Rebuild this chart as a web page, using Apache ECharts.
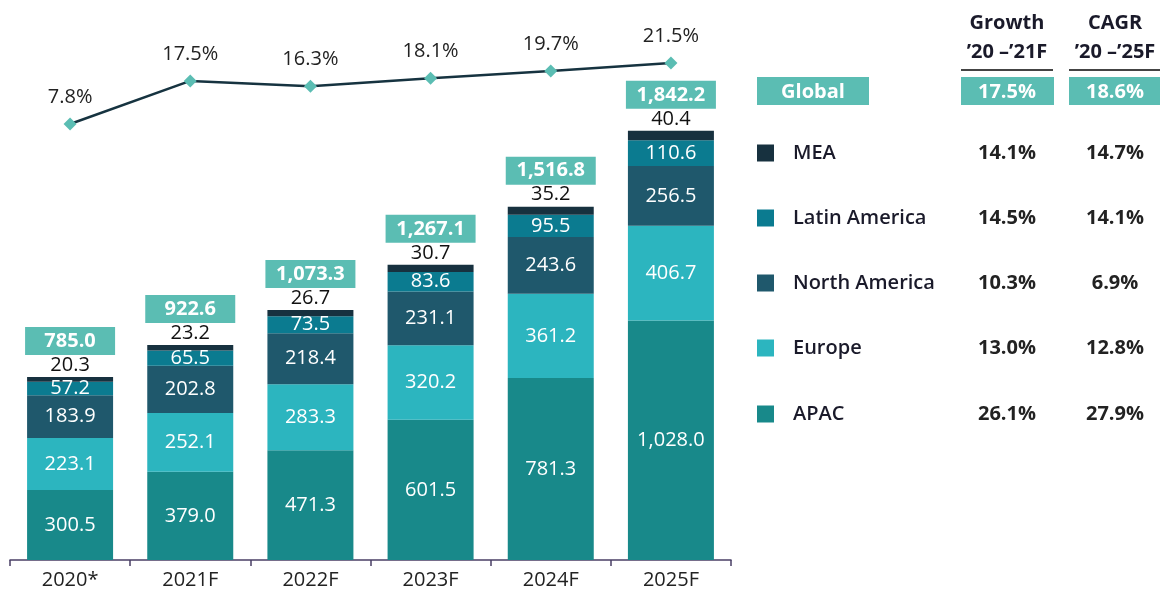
<!DOCTYPE html>
<html>
<head>
<meta charset="utf-8">
<script src="https://cdn.jsdelivr.net/npm/echarts@6/dist/echarts.min.js"></script>
<style>
  html, body { margin: 0; padding: 0; background: #fff; }
  #main { width: 1160px; height: 594px; }
</style>
</head>
<body>
<div id="main"></div>
<script>
var years = ['2020*', '2021F', '2022F', '2023F', '2024F', '2025F'];
var apac = [300.5, 379.0, 471.3, 601.5, 781.3, 1028.0];
var europe = [223.1, 252.1, 283.3, 320.2, 361.2, 406.7];
var northAmerica = [183.9, 202.8, 218.4, 231.1, 243.6, 256.5];
var latinAmerica = [57.2, 65.5, 73.5, 83.6, 95.5, 110.6];
var mea = [20.3, 23.2, 26.7, 30.7, 35.2, 40.4];
var totals = [785.0, 922.6, 1073.3, 1267.1, 1516.8, 1842.2];
var growth = [7.8, 17.5, 16.3, 18.1, 19.7, 21.5];

// right-hand table
var regionNames = ['MEA', 'Latin America', 'North America', 'Europe', 'APAC'];
var regionGrowth = ['14.1%', '14.5%', '10.3%', '13.0%', '26.1%'];
var regionCagr = ['14.7%', '14.1%', '6.9%', '12.8%', '27.9%'];
var globalGrowth = '17.5%';
var globalCagr = '18.6%';

var colors = {
  APAC: '#18898a',
  Europe: '#2cb5bf',
  'North America': '#1f586c',
  'Latin America': '#0b7b90',
  MEA: '#17313f'
};
var boxColor = '#5bbdb3';
var FONT = '"Open Sans", "Noto Sans", sans-serif';

function fmt(v) {
  return v.toLocaleString('en-US', { minimumFractionDigits: 1, maximumFractionDigits: 1 });
}

function barSeries(name, data, labelInside) {
  return {
    name: name,
    type: 'bar',
    stack: 'total',
    xAxisIndex: 0,
    yAxisIndex: 0,
    barWidth: 86,
    data: data,
    itemStyle: { color: colors[name] },
    label: labelInside ? {
      show: true,
      position: 'inside',
      color: '#fff',
      fontSize: 20,
      fontFamily: FONT,
      formatter: function (p) { return fmt(p.value); }
    } : {
      show: true,
      position: 'top',
      distance: 2,
      color: '#111',
      fontSize: 20,
      fontFamily: FONT,
      formatter: function (p) { return fmt(p.value); }
    },
    emphasis: { disabled: true }
  };
}

// table graphics
var graphics = [];
var col1 = 1007, col2 = 1115;
graphics.push({ type: 'text', style: { text: 'Growth', x: col1, y: 23, font: 'bold 20px ' + FONT, fill: '#1a1a2a', textAlign: 'center', textVerticalAlign: 'middle' } });
graphics.push({ type: 'text', style: { text: '\u201920 \u2013\u201921F', x: col1, y: 52, font: 'bold 20px ' + FONT, fill: '#1a1a2a', textAlign: 'center', textVerticalAlign: 'middle' } });
graphics.push({ type: 'text', style: { text: 'CAGR', x: col2, y: 23, font: 'bold 20px ' + FONT, fill: '#1a1a2a', textAlign: 'center', textVerticalAlign: 'middle' } });
graphics.push({ type: 'text', style: { text: '\u201920 \u2013\u201925F', x: col2, y: 52, font: 'bold 20px ' + FONT, fill: '#1a1a2a', textAlign: 'center', textVerticalAlign: 'middle' } });
graphics.push({ type: 'line', shape: { x1: 961, y1: 70, x2: 1053, y2: 70 }, style: { stroke: '#444', lineWidth: 2 } });
graphics.push({ type: 'line', shape: { x1: 1069, y1: 70, x2: 1160, y2: 70 }, style: { stroke: '#444', lineWidth: 2 } });
// global row
graphics.push({ type: 'rect', shape: { x: 757, y: 77, width: 112, height: 28 }, style: { fill: boxColor } });
graphics.push({ type: 'rect', shape: { x: 961, y: 77, width: 93, height: 28 }, style: { fill: boxColor } });
graphics.push({ type: 'rect', shape: { x: 1069, y: 77, width: 91, height: 28 }, style: { fill: boxColor } });
graphics.push({ type: 'text', style: { text: 'Global', x: 813, y: 92, font: 'bold 20px ' + FONT, fill: '#fff', textAlign: 'center', textVerticalAlign: 'middle' } });
graphics.push({ type: 'text', style: { text: globalGrowth, x: col1, y: 92, font: 'bold 20px ' + FONT, fill: '#fff', textAlign: 'center', textVerticalAlign: 'middle' } });
graphics.push({ type: 'text', style: { text: globalCagr, x: col2, y: 92, font: 'bold 20px ' + FONT, fill: '#fff', textAlign: 'center', textVerticalAlign: 'middle' } });
var rowY = [153, 218, 283, 348, 414];
regionNames.forEach(function (n, i) {
  var y = rowY[i];
  graphics.push({ type: 'rect', shape: { x: 757, y: y - 8.5, width: 17, height: 17 }, style: { fill: colors[n] } });
  graphics.push({ type: 'text', style: { text: n, x: 793, y: y, font: '600 20px ' + FONT, fill: '#1a1a2a', textAlign: 'left', textVerticalAlign: 'middle' } });
  graphics.push({ type: 'text', style: { text: regionGrowth[i], x: col1, y: y, font: 'bold 20px ' + FONT, fill: '#222', textAlign: 'center', textVerticalAlign: 'middle' } });
  graphics.push({ type: 'text', style: { text: regionCagr[i], x: col2, y: y, font: 'bold 20px ' + FONT, fill: '#222', textAlign: 'center', textVerticalAlign: 'middle' } });
});

var chart = echarts.init(document.getElementById('main'));
chart.setOption({
  animation: false,
  textStyle: { fontFamily: FONT },
  grid: [
    { left: 10, right: 429, top: 30, bottom: 34 },
    { left: 10, right: 429, top: 36, height: 122.7 }
  ],
  xAxis: [
    {
      type: 'category', gridIndex: 0, data: years,
      axisLine: { lineStyle: { color: '#4a3f66', width: 1.5 } },
      axisTick: { show: true, length: 6, lineStyle: { color: '#4a3f66', width: 1.5 } },
      axisLabel: { color: '#222', fontSize: 20, margin: 10, fontFamily: FONT }
    },
    { type: 'category', gridIndex: 1, data: years, show: false }
  ],
  yAxis: [
    { type: 'value', gridIndex: 0, min: 0, max: 2275, show: false, splitLine: { show: false } },
    { type: 'value', gridIndex: 1, min: 0, max: 27.6, show: false, splitLine: { show: false } }
  ],
  series: [
    barSeries('APAC', apac, true),
    barSeries('Europe', europe, true),
    barSeries('North America', northAmerica, true),
    barSeries('Latin America', latinAmerica, true),
    barSeries('MEA', mea, false),
    {
      name: 'Total',
      type: 'scatter',
      xAxisIndex: 0,
      yAxisIndex: 0,
      data: totals,
      symbolSize: 0,
      itemStyle: { opacity: 1, color: boxColor },
      label: {
        show: true,
        position: 'top',
        distance: 22,
        width: 74,
        align: 'center',
        backgroundColor: boxColor,
        padding: [5, 8],
        lineHeight: 18,
        color: '#fff',
        fontSize: 20,
        fontWeight: 'bold',
        fontFamily: FONT,
        formatter: function (p) { return fmt(p.value); }
      },
      emphasis: { disabled: true }
    },
    {
      name: 'Growth',
      type: 'line',
      xAxisIndex: 1,
      yAxisIndex: 1,
      data: growth,
      clip: false,
      symbol: 'diamond',
      symbolSize: 13,
      itemStyle: { color: '#5bbdb3' },
      lineStyle: { color: '#163340', width: 2.5 },
      label: {
        show: true,
        position: 'top',
        distance: 10,
        color: '#222',
        fontSize: 20,
        fontFamily: FONT,
        formatter: function (p) { return p.value.toFixed(1) + '%'; }
      },
      emphasis: { disabled: true }
    }
  ],
  graphic: graphics
});
</script>
</body>
</html>
